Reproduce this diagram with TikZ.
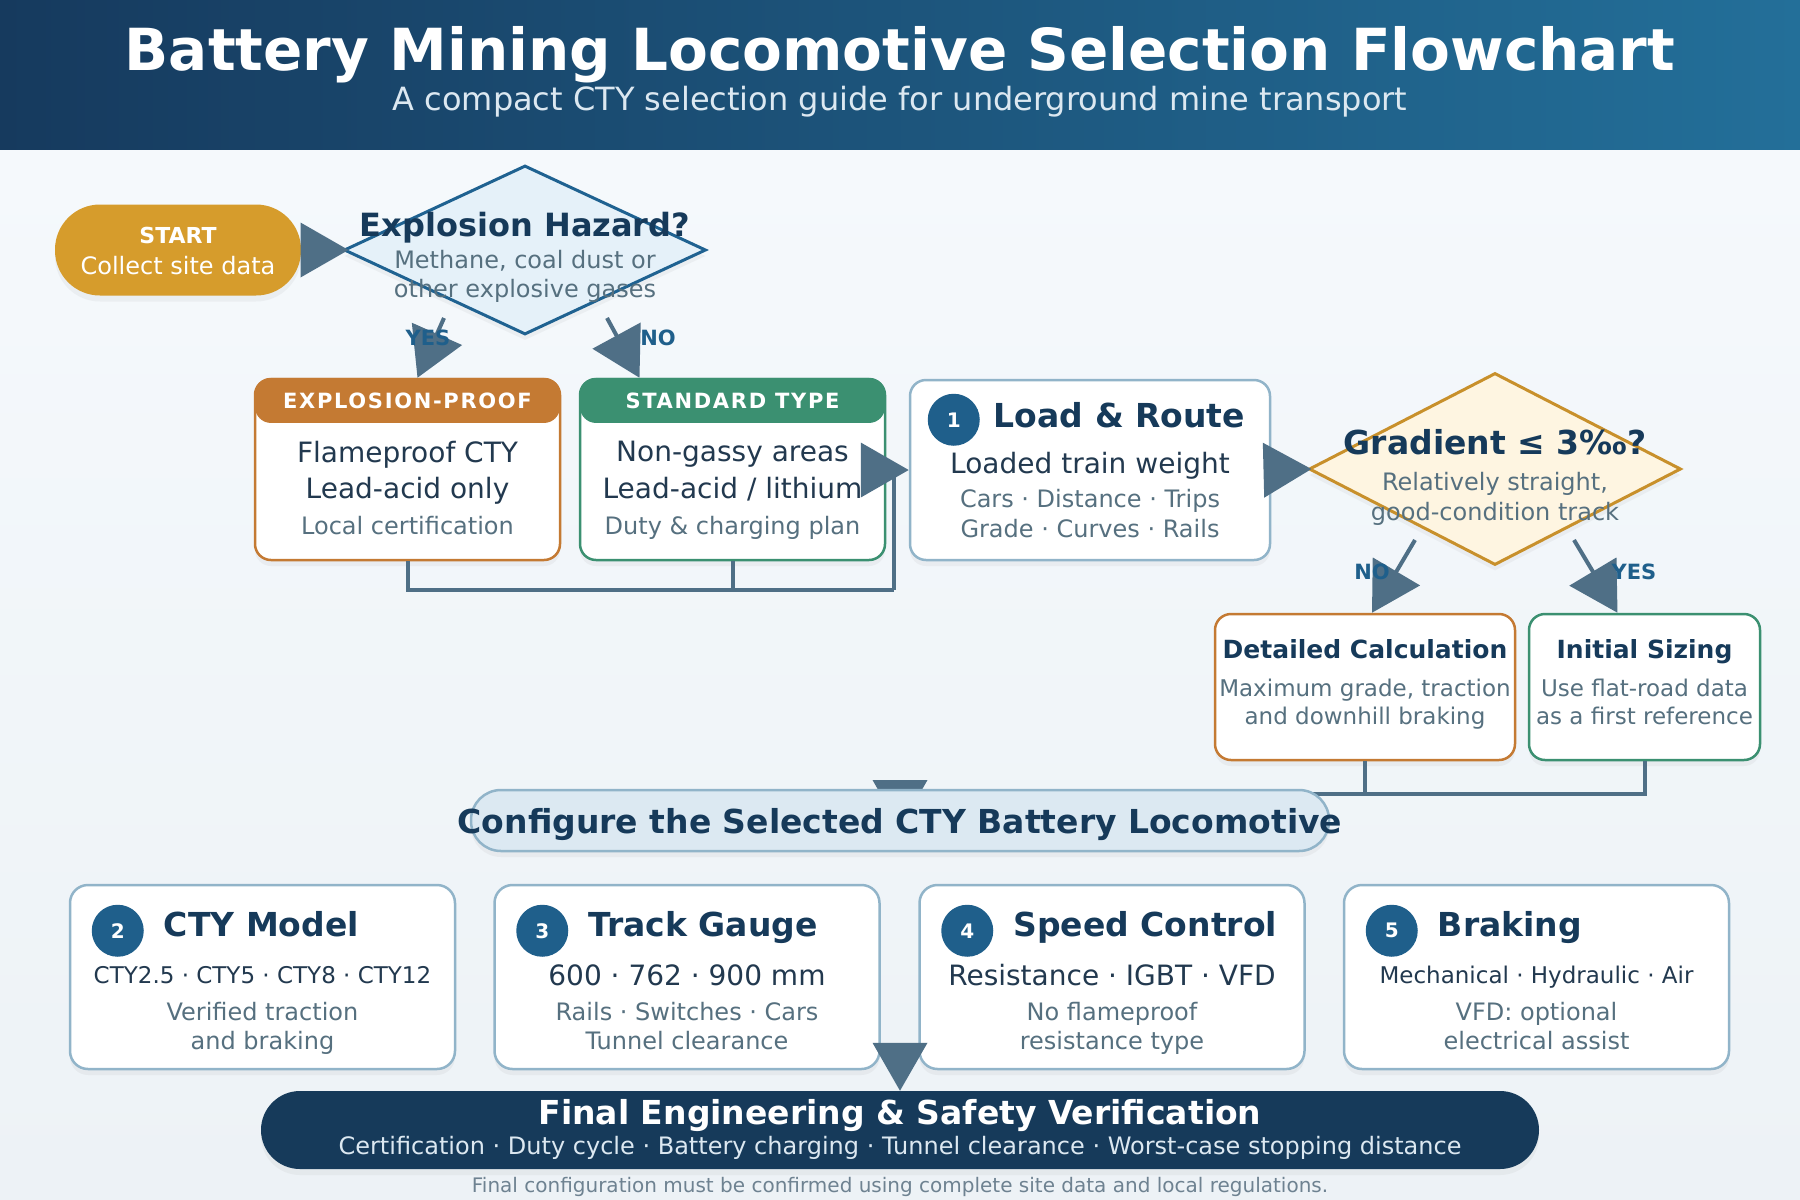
\documentclass[tikz,border=0pt]{standalone}
\usepackage{fontspec}
\setmainfont{DejaVu Sans}
\newfontfamily\capsfont[LetterSpace=8]{DejaVu Sans}
\usetikzlibrary{arrows.meta,calc,shapes.geometric,shadows}

\newcommand{\fsz}[1]{\fontsize{#1}{#1}\selectfont}

\definecolor{hdrleft}{HTML}{163A5E}
\definecolor{hdrright}{HTML}{236F99}
\definecolor{bgtop}{HTML}{F5F9FC}
\definecolor{bgbottom}{HTML}{EDF2F6}
\definecolor{navy}{HTML}{163A5A}
\definecolor{ink}{HTML}{22394F}
\definecolor{muted}{HTML}{56707F}
\definecolor{slate}{HTML}{4F6F86}
\definecolor{steel}{HTML}{1F5F8B}
\definecolor{gold}{HTML}{D69C2C}
\definecolor{rust}{HTML}{C47A33}
\definecolor{pine}{HTML}{3B9071}
\definecolor{edge}{HTML}{91B4C9}
\definecolor{hazfill}{HTML}{E5F1F9}
\definecolor{hazedge}{HTML}{1F6291}
\definecolor{gradfill}{HTML}{FEF5E1}
\definecolor{gradedge}{HTML}{C8902B}
\definecolor{cfgfill}{HTML}{DCE9F2}
\definecolor{pale}{HTML}{DCE8F1}
\definecolor{footgray}{HTML}{6E8291}

\tikzset{
  txt/.style={inner sep=0pt, text depth=0pt, align=center},
  flow/.style={draw=slate, line width=4pt, -{Triangle[length=48pt,width=54pt]}},
  joinline/.style={draw=slate, line width=4pt},
  soft/.style={drop shadow={opacity=0.08, shadow xshift=0pt, shadow yshift=-6pt}},
  card/.style={soft, draw=edge, line width=2.5pt, fill=white, rounded corners=16pt},
  typebox/.style={card, draw=#1, minimum width=305pt, minimum height=181pt},
  typehead/.style={fill=#1, rounded corners=16pt, minimum width=305pt, minimum height=45pt,
    inner sep=0pt, text=white, font=\capsfont\bfseries\fsz{21}},
  decision/.style={soft, diamond, inner sep=0pt, line width=3pt},
  badge/.style={circle, fill=steel, text=white, inner sep=0pt, minimum size=52pt, font=\bfseries\fsz{20}},
  answer/.style={txt, text=steel, font=\bfseries\fsz{21}},
}

\begin{document}
\begin{tikzpicture}[x=1pt, y=-1pt]
  \useasboundingbox (0,0) rectangle (1800,1200);
  \shade[top color=bgtop, bottom color=bgbottom] (0,149) rectangle (1800,1200);
  \shade[left color=hdrleft, right color=hdrright] (0,0) rectangle (1800,149);
  \node[txt, text=white, font=\bfseries\fsz{58}] (title) at (900,48) {Battery Mining Locomotive Selection Flowchart};
  \node[txt, text=pale, font=\fsz{32}] (subtitle) at (900,98) {A compact CTY selection guide for underground mine transport};

  % start and first decision
  \node[soft, fill=gold, rounded corners=45pt, minimum width=246pt, minimum height=91pt] (start) at (178,250) {};
  \node[txt, text=white, font=\bfseries\fsz{22}] at ($(start)+(0,-15)$) {START};
  \node[txt, text=white, font=\fsz{24}] at ($(start)+(0,15)$) {Collect site data};

  \node[decision, fill=hazfill, draw=hazedge, minimum width=362pt, minimum height=169pt] (haz) at (525,250) {};
  \node[txt, text=navy, font=\bfseries\fsz{32}] at ($(haz)+(0,-26)$) {Explosion Hazard?};
  \node[txt, text=muted, font=\fsz{24}] at ($(haz)+(0,9)$) {Methane, coal dust or};
  \node[txt, text=muted, font=\fsz{24}] at ($(haz)+(0,38)$) {other explosive gases};

  % locomotive type
  \node[typebox=rust] (exp) at (407.5,469.5) {};
  \node[typehead=rust, anchor=north] at (exp.north) {EXPLOSION-PROOF};
  \node[txt, text=ink, font=\fsz{28}] at ($(exp.north)+(0,74)$) {Flameproof CTY};
  \node[txt, text=ink, font=\fsz{28}] at ($(exp.north)+(0,110)$) {Lead-acid only};
  \node[txt, text=muted, font=\fsz{24}] at ($(exp.north)+(0,148)$) {Local certification};

  \node[typebox=pine] (std) at (732.5,469.5) {};
  \node[typehead=pine, anchor=north] at (std.north) {STANDARD TYPE};
  \node[txt, text=ink, font=\fsz{28}] at ($(std.north)+(0,74)$) {Non-gassy areas};
  \node[txt, text=ink, font=\fsz{28}] at ($(std.north)+(0,110)$) {Lead-acid / lithium};
  \node[txt, text=muted, font=\fsz{24}] at ($(std.north)+(0,148)$) {Duty \& charging plan};

  % load and route
  \node[card, minimum width=360pt, minimum height=180pt] (load) at (1090,470) {};
  \node[badge] at ($(load.north west)+(45,41)$) {1};
  \node[txt, anchor=west, text=navy, font=\bfseries\fsz{33}] at ($(load.north west)+(85,36)$) {Load \& Route};
  \node[txt, text=ink, font=\fsz{28}] at ($(load.north)+(0,84)$) {Loaded train weight};
  \node[txt, text=muted, font=\fsz{24}] at ($(load.north)+(0,120)$) {Cars · Distance · Trips};
  \node[txt, text=muted, font=\fsz{24}] at ($(load.north)+(0,150)$) {Grade · Curves · Rails};

  % gradient decision
  \node[decision, fill=gradfill, draw=gradedge, minimum width=372pt, minimum height=192pt] (grad) at (1495,469) {};
  \node[txt, text=navy, font=\bfseries\fsz{33}] at ($(grad)+(0,-27)$) {Gradient ≤ 3‰?};
  \node[txt, text=muted, font=\fsz{24}] at ($(grad)+(0,12)$) {Relatively straight,};
  \node[txt, text=muted, font=\fsz{24}] at ($(grad)+(0,42)$) {good-condition track};

  \node[card, draw=rust, minimum width=300pt, minimum height=146pt] (detail) at (1365,687) {};
  \node[txt, text=navy, font=\bfseries\fsz{25}] at ($(detail.north)+(0,36)$) {Detailed Calculation};
  \node[txt, text=muted, font=\fsz{23}] at ($(detail.north)+(0,75)$) {Maximum grade, traction};
  \node[txt, text=muted, font=\fsz{23}] at ($(detail.north)+(0,103)$) {and downhill braking};

  \node[card, draw=pine, minimum width=231pt, minimum height=146pt] (init) at (1644.5,687) {};
  \node[txt, text=navy, font=\bfseries\fsz{25}] at ($(init.north)+(0,36)$) {Initial Sizing};
  \node[txt, text=muted, font=\fsz{23}] at ($(init.north)+(0,75)$) {Use flat-road data};
  \node[txt, text=muted, font=\fsz{23}] at ($(init.north)+(0,103)$) {as a first reference};

  % connectors
  \coordinate (hazyes) at (444,318);
  \coordinate (hazno) at (607,318);
  \coordinate (gradno) at (1415,540);
  \coordinate (gradyes) at (1574,540);
  \coordinate (mergeA) at (894,590);
  \coordinate (mergeB) at (900,794);
  \coordinate (cfgin) at (900,828);
  \coordinate (finalin) at (900,1043);

  \draw[flow] (start.east) -- ([xshift=6pt]haz.west);
  \draw[flow] (hazyes) -- ([xshift=10pt]exp.north);
  \draw[flow] (hazno) -- ([xshift=-93pt]std.north);
  \draw[joinline] (exp.south) |- (mergeA);
  \draw[joinline] (std.south) -- (std.south |- mergeA);
  \draw[flow] (mergeA) |- (load.west);
  \draw[flow] (load.east) -- ([xshift=4pt]grad.west);
  \draw[flow] (gradno) -- ([xshift=7pt]detail.north);
  \draw[flow] (gradyes) -- ([xshift=-27pt]init.north);
  \draw[joinline] (detail.south) -- (detail.south |- mergeB);
  \draw[flow] (init.south) |- (mergeB) -- (cfgin);

  \node[answer] at (428,338) {YES};
  \node[answer] at (658,338) {NO};
  \node[answer] at (1372,572) {NO};
  \node[answer] at (1634,572) {YES};

  % configuration
  \node[soft, fill=cfgfill, draw=edge, line width=2.5pt, rounded corners=30pt,
    minimum width=858pt, minimum height=61pt] (cfg) at (900,820.5) {};
  \node[txt, text=navy, font=\bfseries\fsz{33}] at (cfg) {Configure the Selected CTY Battery Locomotive};

  \foreach \i/\cx/\ttl/\fa/\la/\lb/\lc in {
    2/262.5/CTY Model/23/{CTY2.5 · CTY5 · CTY8 · CTY12}/Verified traction/and braking,
    3/687/Track Gauge/28/{600 · 762 · 900 mm}/{Rails · Switches · Cars}/Tunnel clearance,
    4/1112/Speed Control/28/{Resistance · IGBT · VFD}/No flameproof/resistance type,
    5/1536.5/Braking/23/{Mechanical · Hydraulic · Air}/VFD: optional/electrical assist}{
    \node[card, rounded corners=18pt, minimum width=385pt, minimum height=184pt] (card\i) at (\cx,977) {};
    \node[badge] at ($(card\i.north west)+(49,47)$) {\i};
    \node[txt, anchor=west, text=navy, font=\bfseries\fsz{33}] at ($(card\i.north west)+(95,40)$) {\ttl};
    \node[txt, text=ink, font=\fsz{\fa}] at ($(card\i.north)+(0,91)$) {\la};
    \node[txt, text=muted, font=\fsz{24}] at ($(card\i.north)+(0,128)$) {\lb};
    \node[txt, text=muted, font=\fsz{24}] at ($(card\i.north)+(0,157)$) {\lc};
  }

  % final check
  \node[soft, fill=navy, rounded corners=39pt, minimum width=1278pt, minimum height=78pt] (final) at (900,1130) {};
  \node[txt, text=white, font=\bfseries\fsz{33}] at ($(final)+(0,-18)$) {Final Engineering \& Safety Verification};
  \node[txt, text=pale, font=\fsz{24}] at ($(final)+(0,15)$) {Certification · Duty cycle · Battery charging · Tunnel clearance · Worst-case stopping distance};
  \draw[flow] (finalin) -- (final.north);

  \node[txt, text=footgray, font=\fsz{20}] (footer) at (900,1185) {Final configuration must be confirmed using complete site data and local regulations.};
\end{tikzpicture}
\end{document}
